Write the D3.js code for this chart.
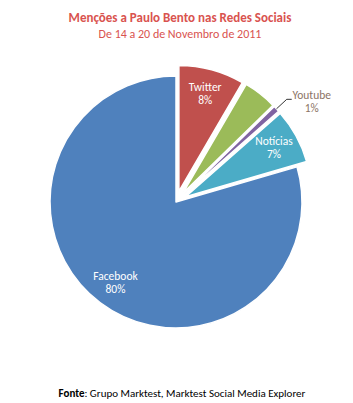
<!DOCTYPE html>
<html>
<head>
<meta charset="utf-8">
<script src="https://cdn.jsdelivr.net/npm/d3@7"></script>
<style>
  body { margin: 0; background: #fff; }
  svg { font-family: Calibri, Carlito, Lato, sans-serif; }
</style>
</head>
<body>
<div id="chart"></div>
<script>
'use strict';

const categories = ['Twitter', 'Blogs', 'Youtube', 'Notícias', 'Facebook'];
const shares = [8.4, 4.3, 0.8, 7.0, 79.5];
const colors = ['#c0504d', '#9bbb59', '#8064a2', '#4bacc6', '#4f81bd'];
const exploded = [true, true, true, true, false];
const showLabel = [true, false, true, true, true];

const width = 353;
const height = 403;
const cx = 176;
const cy = 202;
const radius = 126;
const explode = 11;

const data = categories.map((c, i) => ({ name: c, value: shares[i], color: colors[i], out: exploded[i], label: showLabel[i] }));

const svg = d3.select('#chart').append('svg')
    .attr('width', width)
    .attr('height', height);

svg.append('text')
    .text('Menções a Paulo Bento nas Redes Sociais')
    .attr('x', 180)
    .attr('y', 22)
    .attr('text-anchor', 'middle')
    .attr('font-size', 13)
    .attr('font-weight', 'bold')
    .attr('fill', '#d9534f');

svg.append('text')
    .text('De 14 a 20 de Novembro de 2011')
    .attr('x', 180)
    .attr('y', 38)
    .attr('text-anchor', 'middle')
    .attr('font-size', 12)
    .attr('fill', '#d9534f');

let pie = d3.pie()
    .sort(null)
    .value(d => d.value);

let arc = d3.arc()
    .innerRadius(0)
    .outerRadius(radius);

let labelArc = d3.arc()
    .innerRadius(radius * 0.8)
    .outerRadius(radius * 0.8);

const arcs = pie(data);

function shift(d) {
    if (!d.data.out) return [0, 0];
    let a = (d.startAngle + d.endAngle) / 2;
    return [Math.sin(a) * explode, -Math.cos(a) * explode];
}

let g = svg.append('g')
    .attr('transform', `translate(${cx}, ${cy})`);

let slice = g.selectAll('g.slice')
    .data(arcs)
    .enter()
    .append('g')
    .attr('class', 'slice')
    .attr('transform', d => `translate(${shift(d)})`);

slice.append('path')
    .attr('d', arc)
    .attr('fill', d => d.data.color)
    .attr('stroke', '#fff')
    .attr('stroke-width', 1.5)
    .attr('stroke-linejoin', 'round');

// labels inside the slices
let inside = slice.filter(d => d.data.label && d.data.value > 2);

inside.append('text')
    .attr('text-anchor', 'middle')
    .attr('font-size', 11.5)
    .attr('fill', '#fff')
    .attr('transform', d => `translate(${labelArc.centroid(d)})`)
    .selectAll('tspan')
    .data(d => [d.data.name, Math.round(d.data.value) + '%'])
    .enter()
    .append('tspan')
    .attr('x', 0)
    .attr('y', (t, i) => i === 0 ? -3 : 10)
    .text(t => t);

// small slice label with leader line
let outside = slice.filter(d => d.data.label && d.data.value <= 2);

outside.each(function(d) {
    let a = (d.startAngle + d.endAngle) / 2;
    let p1 = [Math.sin(a) * radius, -Math.cos(a) * radius];
    let p2 = [Math.sin(a) * (radius + 14), -Math.cos(a) * (radius + 14)];
    let p3 = [p2[0] + 5, p2[1]];
    let sel = d3.select(this);
    sel.append('path')
        .attr('d', d3.line()([p1, p2, p3]))
        .attr('fill', 'none')
        .attr('stroke', '#000')
        .attr('stroke-width', 0.8);
    sel.append('text')
        .attr('text-anchor', 'middle')
        .attr('font-size', 11.5)
        .attr('fill', '#8c7466')
        .selectAll('tspan')
        .data([d.data.name, Math.round(d.data.value) + '%'])
        .enter()
        .append('tspan')
        .attr('x', p3[0] + 20)
        .attr('y', (t, i) => p3[1] + (i === 0 ? 0 : 13))
        .text(t => t);
});

let foot = svg.append('text')
    .attr('x', 182)
    .attr('y', 397)
    .attr('text-anchor', 'middle')
    .attr('font-size', 11)
    .attr('fill', '#000');

foot.append('tspan')
    .attr('font-weight', 'bold')
    .text('Fonte');

foot.append('tspan')
    .text(': Grupo Marktest, Marktest Social Media Explorer');
</script>
</body>
</html>
